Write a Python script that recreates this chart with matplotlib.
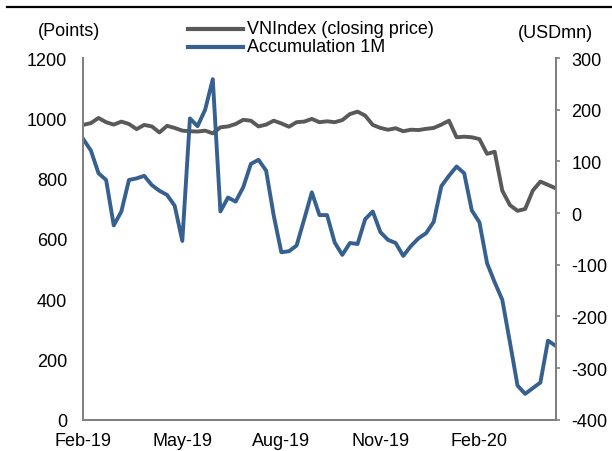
import matplotlib
matplotlib.use("Agg")
import matplotlib.pyplot as plt
from matplotlib.lines import Line2D
import numpy as np

plt.rcParams['font.family'] = ['Liberation Sans', 'DejaVu Sans']
plt.rcParams['axes.unicode_minus'] = False

# Weekly data, Feb-2019 .. Apr-2020
tick_labels = ['Feb-19', 'May-19', 'Aug-19', 'Nov-19', 'Feb-20']
tick_index = [0, 13, 26, 39, 52]

vnindex = [978, 984, 1001, 987, 979, 989, 981, 964, 978, 973,
           953, 975, 968, 959, 957, 956, 959, 950, 970, 973,
           981, 995, 992, 973, 979, 992, 983, 972, 987, 989,
           998, 987, 990, 987, 994, 1014, 1022, 1009, 978, 968,
           962, 967, 957, 962, 961, 965, 968, 979, 992, 937,
           939, 937, 931, 882, 889, 760, 712, 693, 699, 760,
           790, 779, 768]

accum_1m = [143, 121, 77, 64, -24, 3, 64, 67, 72, 54,
            43, 35, 14, -54, 183, 168, 200, 259, 3, 30,
            22, 50, 95, 103, 82, -5, -76, -74, -63, -12,
            40, -4, -4, -57, -81, -58, -60, -12, 3, -37,
            -52, -58, -83, -64, -49, -39, -17, 52, 72, 90,
            77, 5, -18, -97, -134, -168, -250, -334, -350, -339,
            -328, -247, -257]

series_names = ['VNIndex (closing price)', 'Accumulation 1M']
gray = '#595959'
blue = '#36608F'
spine_col = '#808080'

W, H = 612, 452
fig = plt.figure(figsize=(W / 100, H / 100), dpi=100)
L, R, T, B = 82.5, 556, 59, 420.7
ax = fig.add_axes([L / W, 1 - B / H, (R - L) / W, (B - T) / H])
ax2 = ax.twinx()

x = np.arange(len(vnindex))
ax.plot(x, vnindex, color=gray, lw=2.8, solid_joinstyle='round')
ax2.plot(x, accum_1m, color=blue, lw=2.8, solid_joinstyle='round')

ax.set_xlim(-0.1, len(vnindex) - 1 + 0.05)
ax.set_ylim(0, 1200)
ax.set_yticks(range(0, 1201, 200))
ax2.set_ylim(-400, 300)
ax2.set_yticks(range(-400, 301, 100))
ax.set_xticks(tick_index)
ax.set_xticklabels(tick_labels)

for a in (ax, ax2):
    a.spines['top'].set_visible(False)
    for s in ('left', 'right', 'bottom'):
        a.spines[s].set_color(spine_col)
        a.spines[s].set_linewidth(1.4)
ax.tick_params(axis='y', length=0, pad=11, labelsize=13)
ax.tick_params(axis='x', length=0, pad=9, labelsize=13)
ax2.tick_params(axis='y', length=3, width=1.2, color=spine_col, pad=8, labelsize=13)

fs = 13
fig.text(68.7 / W, 1 - 31.7 / H, '(Points)', ha='center', va='center', fontsize=fs)
fig.text(555 / W, 1 - 33 / H, '(USDmn)', ha='center', va='center', fontsize=fs)

# legend
for yy, col, name in [(30, gray, series_names[0]), (48, blue, series_names[1])]:
    fig.add_artist(Line2D([188 / W, 243 / W], [1 - yy / H] * 2, color=col, lw=3))
    fig.text(247 / W, 1 - yy / H, name, ha='left', va='center', fontsize=fs)

# top rule
fig.add_artist(Line2D([7 / W, 1.0], [1 - 8.3 / H] * 2, color='black', lw=1.6))

fig.savefig('out.png', dpi=100)
